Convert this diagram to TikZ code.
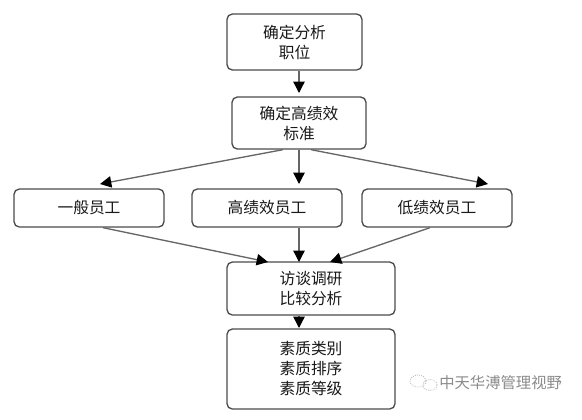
\documentclass[tikz,border=0pt]{standalone}
\usepackage{fontspec}
\newfontfamily\cjk{Noto Sans CJK SC}
\usetikzlibrary{arrows.meta}
\begin{document}
\begin{tikzpicture}[x=0.75pt,y=-0.75pt,
  box/.style={draw=black!70,line width=1pt,rounded corners=4pt,fill=white,
    align=center,inner sep=0pt,font=\cjk\fontsize{11.8}{15}\selectfont,text=black!90},
  arr/.style={draw=black!60,line width=1pt,-{Triangle[length=8.5pt,width=8.5pt,color=black]}},
  wmtext/.style={font=\cjk\fontsize{11.5}{14}\selectfont,text=black!45}]
\useasboundingbox (0,0) rectangle (582,419);
\fill[white] (0,0) rectangle (582,419);
\node[box,minimum width=101.25pt,minimum height=42pt] (b1) at (294.5,42) {确定分析\\职位};
\node[box,minimum width=100.5pt,minimum height=39pt] (b2) at (299,123) {确定高绩效\\标准};
\node[box,minimum width=112.5pt,minimum height=28.5pt] (ga) at (89,208) {一般员工};
\node[box,minimum width=112.5pt,minimum height=28.5pt] (gb) at (267,208) {高绩效员工};
\node[box,minimum width=112.5pt,minimum height=28.5pt] (gc) at (437,208) {低绩效员工};
\node[box,minimum width=126pt,minimum height=39.75pt] (b4) at (311,288.5) {访谈调研\\比较分析};
\node[box,minimum width=126pt,minimum height=60pt] (b5) at (311,369) {素质类别\\素质排序\\素质等级};
% connector end points
\coordinate (t1) at (299,93);
\coordinate (s2l) at (283,149);
\coordinate (s2r) at (311,149);
\coordinate (tA) at (100,184);
\coordinate (tB) at (299,184);
\coordinate (tC) at (488,184);
\coordinate (sA) at (103,227);
\coordinate (sC) at (430,227);
\coordinate (t4l) at (268,262);
\coordinate (t4m) at (299,262);
\coordinate (t4r) at (330,262);
\coordinate (t5) at (299,328);
\draw[arr] (b1.south -| t1) -- (t1);
\draw[arr] (b2.south -| s2l) -- (tA);
\draw[arr] (b2.south -| tB) -- (tB);
\draw[arr] (b2.south -| s2r) -- (tC);
\draw[arr] (ga.south -| sA) -- (t4l);
\draw[arr] (gb.south -| t4m) -- (t4m);
\draw[arr] (gc.south -| sC) -- (t4r);
\draw[arr] (b4.south -| t5) -- (t5);
% watermark
\draw[black!30,densely dotted,line width=0.6pt] (418,381) ellipse (8 and 6);
\draw[black!30,densely dotted,line width=0.6pt] (430,385) ellipse (7 and 5.5);
\node[wmtext,anchor=west,inner sep=0pt] (wm) at (439,383) {中天华溥管理视野};
\end{tikzpicture}
\end{document}
